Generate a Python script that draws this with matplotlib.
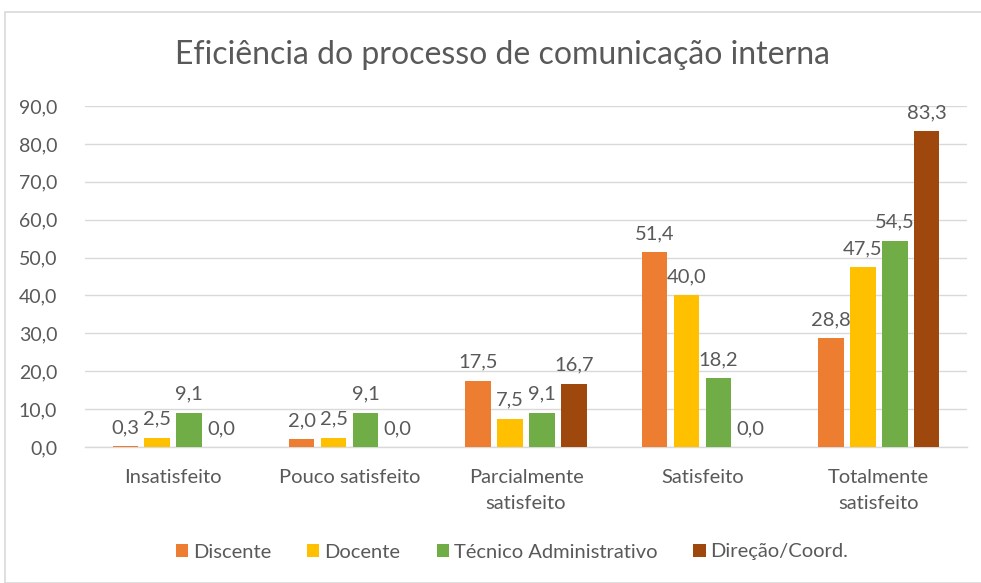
import numpy as np
import matplotlib.pyplot as plt
from matplotlib.patches import Rectangle

categorias = ["Insatisfeito", "Pouco satisfeito", "Parcialmente\nsatisfeito",
              "Satisfeito", "Totalmente\nsatisfeito"]
discente = [0.3, 2.0, 17.5, 51.4, 28.8]
docente = [2.5, 2.5, 7.5, 40.0, 47.5]
tecnico = [9.1, 9.1, 9.1, 18.2, 54.5]
direcao = [0.0, 0.0, 16.7, 0.0, 83.3]
series_nomes = ["Discente", "Docente", "Técnico Administrativo", "Direção/Coord."]
cores = ["#ED7D31", "#FFC000", "#70AD47", "#9E480E"]
y_ticks = [0, 10, 20, 30, 40, 50, 60, 70, 80, 90]

plt.rcParams['font.family'] = ['Lato', 'DejaVu Sans']
cinza = "#595959"

fig = plt.figure(figsize=(9.81, 5.83), dpi=100)
fig.patches.append(Rectangle((5 / 981, 0), 1, 1 - 12 / 583, transform=fig.transFigure,
                             fill=False, edgecolor="#D9D9D9", linewidth=1.2))
ax = fig.add_axes([85 / 981, 1 - 447 / 583, (967 - 85) / 981, (447 - 106) / 583])

x = np.arange(len(categorias))
largura = 0.145
passo = 0.181
for i, (vals, nome, cor) in enumerate(zip([discente, docente, tecnico, direcao], series_nomes, cores)):
    pos = x + (i - 1.5) * passo
    barras = ax.bar(pos, vals, largura, color=cor, label=nome, zorder=3)
    for b, v in zip(barras, vals):
        ax.text(b.get_x() + b.get_width() / 2, v + 2.6, f"{v:.1f}".replace(".", ","),
                ha="center", va="bottom", fontsize=14.5, color=cinza)

ax.set_xlim(-0.5, len(categorias) - 0.5)
ax.set_ylim(0, 90)
ax.set_yticks(y_ticks)
ax.set_yticklabels([f"{v:.1f}".replace(".", ",") for v in y_ticks], fontsize=14, color=cinza)
ax.set_xticks(x)
ax.set_xticklabels(categorias, fontsize=14.5, color=cinza, linespacing=1.6)
ax.tick_params(axis="both", length=0)
ax.tick_params(axis="x", pad=16)
ax.tick_params(axis="y", pad=20)
ax.yaxis.grid(True, color="#D9D9D9", linewidth=1, zorder=0)
for s in ["top", "right", "left"]:
    ax.spines[s].set_visible(False)
ax.spines["bottom"].set_color("#D9D9D9")
ax.spines["bottom"].set_linewidth(1)

fig.text(502 / 981, 1 - 55 / 583, "Eficiência do processo de comunicação interna",
         ha="center", va="center", fontsize=23, color=cinza)

fig.legend(loc="center", bbox_to_anchor=(512 / 981, 1 - 552 / 583), ncol=4, frameon=False,
           fontsize=14.5, labelcolor=cinza, handlelength=0.6, handleheight=0.6,
           handletextpad=0.25, columnspacing=1.8)

fig.savefig("out.png", dpi=100)
